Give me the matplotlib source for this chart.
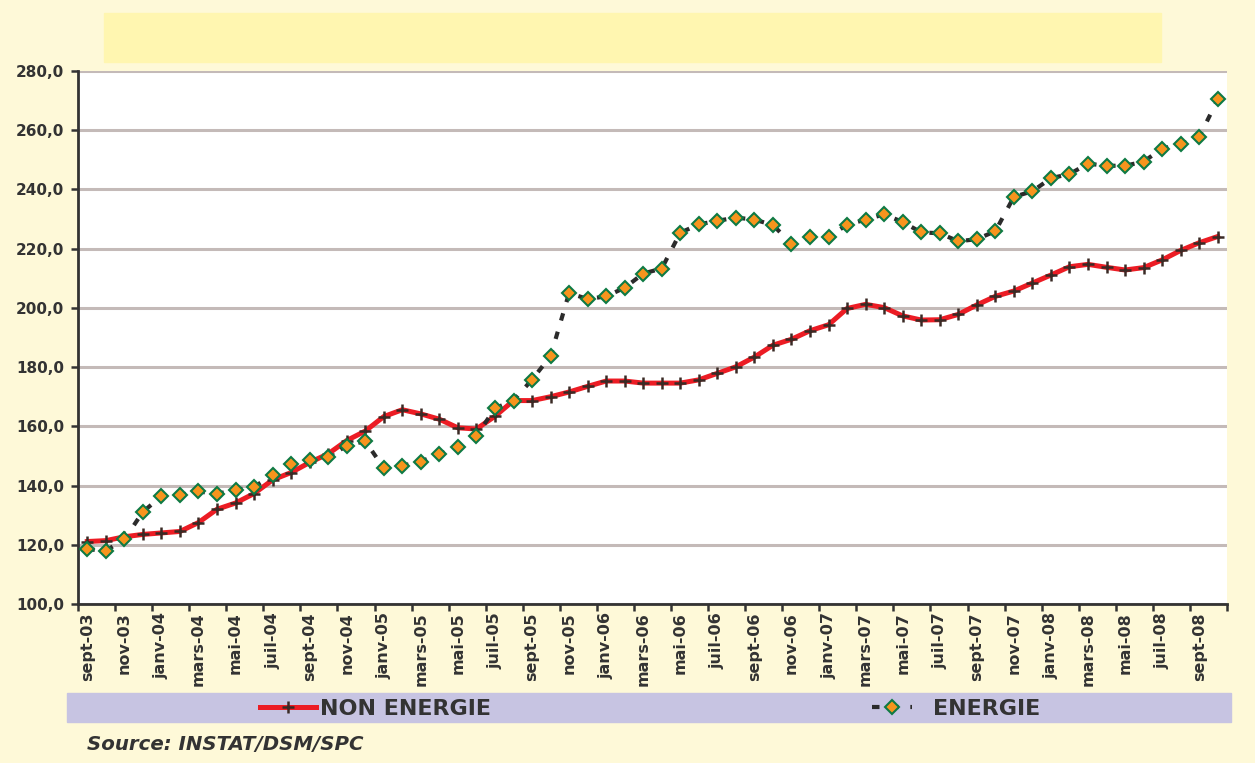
import numpy as np
import matplotlib.pyplot as plt
from matplotlib.patches import Rectangle

# monthly index, sept-03 .. oct-08
month_names = ['janv', 'févr', 'mars', 'avr', 'mai', 'juin',
               'juil', 'août', 'sept', 'oct', 'nov', 'déc']
months = []
for year in range(2003, 2009):
    for m, name in enumerate(month_names):
        if (year == 2003 and m < 8) or (year == 2008 and m > 9):
            continue
        months.append('%s-%02d' % (name, year % 100))

non_energie = [121.1, 121.4, 122.7, 123.5, 124.0, 124.5, 127.5, 132.0, 134.1, 137.3,
               141.9, 144.4, 147.8, 150.7, 155.2, 158.4, 163.3, 165.6, 164.2, 162.4,
               159.5, 159.1, 163.4, 168.7, 168.7, 170.0, 171.6, 173.5, 175.3, 175.3,
               174.6, 174.6, 174.6, 175.7, 177.9, 180.1, 183.4, 187.4, 189.4, 192.3,
               194.3, 199.8, 201.2, 200.1, 197.3, 195.9, 196.0, 197.8, 201.0, 203.9,
               205.7, 208.4, 211.1, 213.9, 214.7, 213.7, 212.8, 213.6, 216.2, 219.4,
               222.0, 224.1]

energie = [118.5, 118.0, 121.8, 131.1, 136.4, 136.8, 138.0, 137.2, 138.5, 139.6,
           143.4, 147.4, 148.5, 149.5, 153.5, 155.0, 145.9, 146.7, 148.1, 150.7,
           153.0, 156.7, 166.1, 168.7, 175.8, 183.7, 205.0, 203.0, 203.9, 206.8,
           211.6, 213.3, 225.4, 228.2, 229.4, 230.5, 229.8, 228.0, 221.6, 223.8,
           224.0, 228.1, 229.8, 231.6, 229.0, 225.5, 225.2, 222.5, 223.2, 225.9,
           237.5, 239.4, 243.8, 245.2, 248.7, 248.0, 248.0, 249.4, 253.8, 255.2,
           257.7, 270.4]

plt.rcParams['font.family'] = 'DejaVu Sans'
plt.rcParams['font.weight'] = 'bold'

W, H = 1255, 763
fig = plt.figure(figsize=(W / 100, H / 100), dpi=100, facecolor='#FEF9D8')

# title box and legend band
fig.patches.append(Rectangle((104 / W, 1 - 62 / H), (1161 - 104) / W, 49 / H,
                             transform=fig.transFigure, color='#FFF6B0', zorder=0))
fig.patches.append(Rectangle((67 / W, 1 - 722 / H), (1231 - 67) / W, 29 / H,
                             transform=fig.transFigure, color='#C7C4E2', zorder=0))

ax = fig.add_axes([78 / W, 1 - 604 / H, (1227 - 78) / W, (604 - 71) / H])
ax.set_facecolor('white')

x = np.arange(len(months))
l1, = ax.plot(x, non_energie, color='#EC1C24', lw=3.6, zorder=3,
              marker='+', ms=8, mew=1.8, mec='#3A2A25')
l2, = ax.plot(x, energie, color='#2B2B2B', lw=3, ls=(0, (1.8, 2.8)), zorder=4,
              marker='D', ms=6.8, mfc='#F7941D', mec='#0E7A44', mew=1.5)

ax.set_ylim(100, 280)
ax.set_yticks(np.arange(100, 281, 20))
ax.set_yticklabels(['%d,0' % v for v in range(100, 281, 20)])
ax.set_xlim(-0.5, len(months) - 0.5)
ax.set_xticks(np.arange(-0.5, len(months), 2))
ax.set_xticklabels([])
ax.set_xticks(x[::2], minor=True)
ax.set_xticklabels(months[::2], minor=True, rotation=90)

ax.grid(axis='y', color='#C4BAB8', lw=2.2, zorder=1)
ax.set_axisbelow(True)
for s in ['top', 'right']:
    ax.spines[s].set_visible(False)
for s in ['left', 'bottom']:
    ax.spines[s].set_color('#333333')
    ax.spines[s].set_linewidth(2)
ax.tick_params(axis='both', which='major', direction='out', length=5, width=1.8,
               color='#333333', labelcolor='#333333')
ax.tick_params(axis='y', labelsize=11, pad=5)
ax.tick_params(axis='x', which='minor', length=0, pad=6, labelsize=11.5,
               labelcolor='#333333')

leg1 = fig.legend(handles=[l1], labels=['NON ENERGIE'], loc='center left',
                  bbox_to_anchor=(260 / W, 1 - 709 / H), frameon=False,
                  borderpad=0, borderaxespad=0, handlelength=2.5,
                  handletextpad=0.2, fontsize=16, numpoints=1)
leg2 = fig.legend(handles=[l2], labels=['ENERGIE'], loc='center left',
                  bbox_to_anchor=(872 / W, 1 - 709 / H), frameon=False,
                  borderpad=0, borderaxespad=0, handlelength=1.8,
                  handletextpad=0.95, fontsize=16, numpoints=1)
for leg in (leg1, leg2):
    for t in leg.get_texts():
        t.set_color('#333333')

fig.text(87 / W, 1 - 745 / H, 'Source: INSTAT/DSM/SPC', style='italic',
         fontsize=14.2, color='#333333', va='center')

fig.savefig('out.png', dpi=100, facecolor=fig.get_facecolor())
